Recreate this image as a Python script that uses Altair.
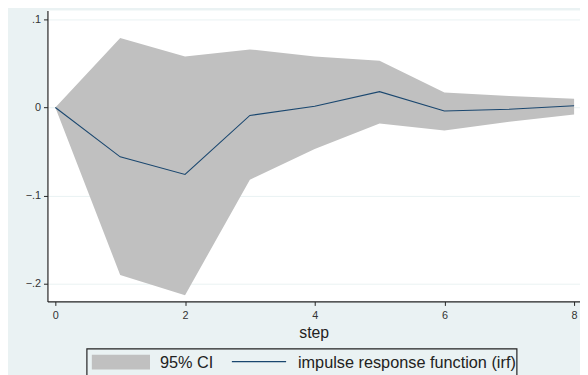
import altair as alt
import pandas as pd

steps = [0, 1, 2, 3, 4, 5, 6, 7, 8]
irf = [0.0, -0.056, -0.076, -0.009, 0.0015, 0.018, -0.004, -0.002, 0.002]
upper = [0.0, 0.079, 0.058, 0.066, 0.058, 0.053, 0.017, 0.013, 0.010]
lower = [0.0, -0.190, -0.213, -0.082, -0.047, -0.018, -0.026, -0.016, -0.008]

y_ticks = [0.1, 0.0, -0.1, -0.2]
x_ticks = [0, 2, 4, 6, 8]
legend_labels = ["95% CI", "impulse response function (irf)"]

df = pd.DataFrame({"step": steps, "irf": irf, "upper": upper, "lower": lower})
one = pd.DataFrame({"k": [0]})

FONT = "Liberation Sans"
NAVY = "#1A476F"
GRAY = "#C0C0C0"

xscale = alt.Scale(domain=[-0.1217, 8.091], nice=False, zero=False)
yscale = alt.Scale(domain=[-0.2201, 0.1101], nice=False, zero=False)

xaxis = alt.Axis(values=x_ticks, format="d", title="step", grid=False, domainColor="#222",
                 tickColor="#222", tickSize=4, labelFontSize=11, labelColor="#333",
                 labelFont=FONT, titleFont=FONT, titleFontSize=16, titleFontWeight="normal",
                 titleColor="#222", labelPadding=4, titlePadding=5, domainWidth=1.2)
yaxis = alt.Axis(values=y_ticks, title=None, grid=True, gridColor="#EAF2F3", gridWidth=1,
                 domainColor="#222", tickColor="#222", tickSize=4, labelFontSize=11,
                 labelColor="#333", labelFont=FONT, labelPadding=3, domainWidth=1.2,
                 labelExpr="datum.value == 0 ? '0' : replace(format(datum.value, '.1f'), '0.', '.')")

band = alt.Chart(df).mark_area(color=GRAY, opacity=1).encode(
    x=alt.X("step:Q", scale=xscale, axis=xaxis),
    y=alt.Y("lower:Q", scale=yscale, axis=yaxis),
    y2="upper:Q",
)

line = alt.Chart(df).mark_line(color=NAVY, strokeWidth=1.1).encode(
    x=alt.X("step:Q", scale=xscale),
    y=alt.Y("irf:Q", scale=yscale),
)

# legend (manual, below the plot), one row of data per element
leg_box = alt.Chart(one).mark_rect(fill=None, stroke="#222", strokeWidth=1.2).encode(
    x=alt.value(40), x2=alt.value(476), y=alt.value(343), y2=alt.value(372)
)
leg_swatch = alt.Chart(one).mark_rect(fill=GRAY).encode(
    x=alt.value(45), x2=alt.value(104), y=alt.value(349), y2=alt.value(364)
)
leg_rule = alt.Chart(one).mark_rule(color=NAVY, strokeWidth=1.1).encode(
    x=alt.value(187), x2=alt.value(242), y=alt.value(356)
)
leg_t1 = alt.Chart(one).mark_text(align="left", baseline="middle", font=FONT, fontSize=16.5,
                                  fontWeight="normal", color="#222", text=legend_labels[0]).encode(
    x=alt.value(114), y=alt.value(357)
)
leg_t2 = alt.Chart(one).mark_text(align="left", baseline="middle", font=FONT, fontSize=16.5,
                                  fontWeight="normal", color="#222", text=legend_labels[1]).encode(
    x=alt.value(254), y=alt.value(357)
)

chart = alt.layer(band, line, leg_box, leg_swatch, leg_rule, leg_t1, leg_t2).properties(
    width=540, height=295,
    padding={"left": 40, "top": 0, "right": 0, "bottom": 72},
    autosize=alt.AutoSizeParams(type="none"),
    background="#EAF2F3",
).configure_view(fill="white", stroke=None)

chart.save("out.html", embed_options={"renderer": "svg", "actions": False})
